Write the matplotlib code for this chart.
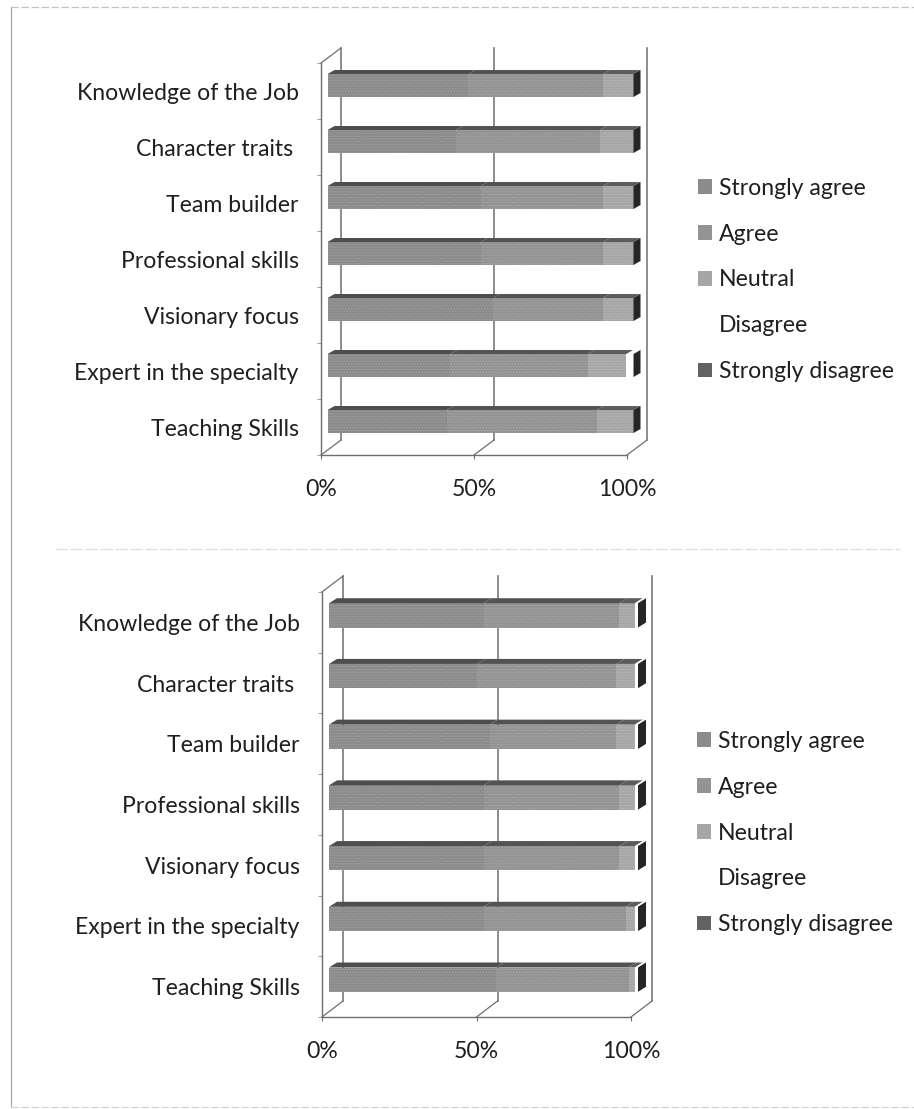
import matplotlib
matplotlib.use("Agg")
import matplotlib.pyplot as plt
import numpy as np
from matplotlib.lines import Line2D
from matplotlib.patches import Patch, Polygon

plt.rcParams["font.family"] = ["Lato", "DejaVu Sans"]
plt.rcParams["hatch.linewidth"] = 0.5

W, H = 914, 1109
FONT_SIZE = 16.6

categories = [
    "Knowledge of the Job",
    "Character traits ",
    "Team builder",
    "Professional skills",
    "Visionary focus",
    "Expert in the specialty",
    "Teaching Skills",
]
series_names = ["Strongly agree", "Agree", "Neutral", "Disagree", "Strongly disagree"]
x_ticks = [0, 50, 100]
x_labels = ["0%", "50%", "100%"]

# percent per category (the greys are hard to separate)
top_strongly_agree = [46, 42, 50, 50, 54, 40, 39]
top_agree = [44, 47, 40, 40, 36, 45, 49]
top_neutral = [10, 11, 10, 10, 10, 12.7, 12]
top_disagree = [0, 0, 0, 0, 0, 2.3, 0]
top_strongly_disagree = [0, 0, 0, 0, 0, 0, 0]

bottom_strongly_agree = [50, 48, 52, 50, 50, 50, 54]
bottom_agree = [44, 45, 41, 44, 44, 46, 43]
bottom_neutral = [5, 6, 6, 5, 5, 3, 2]
bottom_disagree = [1, 1, 1, 1, 1, 1, 1]
bottom_strongly_disagree = [0, 0, 0, 0, 0, 0, 0]

face_colors = ["#8b8b8b", "#939393", "#a6a6a6", "#ffffff", "#626262"]
hatch_colors = ["#a2a2a2", "#a9a9a9", "#bcbcbc", "#ffffff", "#626262"]
top_colors = ["#4e4e4e", "#535353", "#5c5c5c", "#ffffff", "#333333"]
side_color = "#262626"
wall_color = "#6e6e6e"
text_color = "#1f1f1f"


def draw_chart(box, series, wall, bar_off, bar_depth, bar_height, legend_xy, label_pad):
    """box is (left, top, right, bottom) of the front plane, in pixels."""
    left, top, right, bottom = box
    ax = plt.gcf().add_axes([left / W, 1 - bottom / H, (right - left) / W, (bottom - top) / H])
    ax.set_xlim(0, 100)
    ax.set_ylim(len(categories), 0)
    y = np.arange(len(categories)) + 0.5

    # pixel offsets of the fake 3D, expressed in data units
    px_x = 100 / (right - left)
    px_y = len(categories) / (bottom - top)

    wall_dx, wall_dy = wall[0] * px_x, wall[1] * px_y
    for t in x_ticks:
        ax.plot([t + wall_dx] * 2, [0 - wall_dy, len(categories) - wall_dy], color=wall_color, lw=1.1, zorder=1, clip_on=False)
        ax.plot([t, t + wall_dx], [len(categories), len(categories) - wall_dy], color=wall_color, lw=0.9, zorder=1, clip_on=False)
    ax.plot([0, wall_dx], [0, -wall_dy], color=wall_color, lw=0.9, zorder=1, clip_on=False)

    off_x, off_y = bar_off[0] * px_x, bar_off[1] * px_y
    dep_x, dep_y = bar_depth[0] * px_x, bar_depth[1] * px_y

    lefts = np.zeros(len(categories))
    for values, face, speck, top_col in zip(series, face_colors, hatch_colors, top_colors):
        values = np.asarray(values, dtype=float)
        ax.barh(y - off_y, values, left=lefts + off_x, height=bar_height, facecolor=face,
                edgecolor=speck, hatch="......", linewidth=0, zorder=3, clip_on=False)
        for yi, l, v in zip(y - off_y, lefts + off_x, values):
            if v <= 0:
                continue
            y_top = yi - bar_height / 2
            ax.add_patch(Polygon([(l, y_top), (l + v, y_top), (l + v + dep_x, y_top - dep_y), (l + dep_x, y_top - dep_y)],
                                 facecolor=top_col, edgecolor="none", zorder=3, clip_on=False))
        lefts = lefts + values

    # dark end cap of every bar
    for yi, l in zip(y - off_y, lefts + off_x):
        y_top = yi - bar_height / 2
        y_bot = yi + bar_height / 2
        ax.add_patch(Polygon([(l, y_top), (l + dep_x, y_top - dep_y), (l + dep_x, y_bot - dep_y), (l, y_bot)],
                             facecolor=side_color, edgecolor="none", zorder=4, clip_on=False))

    for name in ["top", "right"]:
        ax.spines[name].set_visible(False)
    for name in ["left", "bottom"]:
        ax.spines[name].set_color(wall_color)
        ax.spines[name].set_linewidth(1.0)
    ax.patch.set_alpha(0)

    ax.set_yticks(y, categories, fontsize=FONT_SIZE, color=text_color)
    ax.set_yticks(np.arange(len(categories) + 1), minor=True)
    ax.tick_params(axis="y", which="major", length=0, pad=label_pad)
    ax.tick_params(axis="y", which="minor", length=3, color="#a0a0a0", width=0.8)
    ax.set_xticks(x_ticks, x_labels, fontsize=FONT_SIZE, color=text_color)
    ax.tick_params(axis="x", length=3, color=wall_color, width=0.8, pad=14)

    handles = [Patch(facecolor=c, edgecolor="none") for c in face_colors]
    plt.gcf().legend(handles, series_names, loc="center left",
                     bbox_to_anchor=(legend_xy[0] / W, 1 - legend_xy[1] / H),
                     frameon=False, fontsize=FONT_SIZE, labelcolor=text_color,
                     handlelength=0.6, handleheight=0.6, handletextpad=0.3,
                     labelspacing=1.08, borderpad=0, borderaxespad=0)


def page_line(fig, xs, ys, color="#b5b5b5", lw=0.9, ls="-"):
    fig.add_artist(Line2D([x / W for x in xs], [1 - v / H for v in ys], color=color, lw=lw, ls=ls))


def main():
    fig = plt.figure(figsize=(W / 100, H / 100), dpi=100, facecolor="white")

    draw_chart((321, 63, 627, 455),
               [top_strongly_agree, top_agree, top_neutral, top_disagree, top_strongly_disagree],
               wall=(20, 15), bar_off=(6.5, 5.5), bar_depth=(7, 4), bar_height=0.41,
               legend_xy=(698, 280), label_pad=16)
    draw_chart((322, 592, 631, 1017),
               [bottom_strongly_agree, bottom_agree, bottom_neutral, bottom_disagree, bottom_strongly_disagree],
               wall=(21, 16), bar_off=(7, 7), bar_depth=(8, 5), bar_height=0.4,
               legend_xy=(697, 833), label_pad=16)

    # scanned page edges and the faint rule between the charts
    page_line(fig, [11, 11], [7, 1106], color="#a8a8a8")
    page_line(fig, [11, 914], [7, 7], color="#c2c2c2", ls=(0, (6, 2)))
    page_line(fig, [11, 914], [1107, 1107], color="#d4d4d4", ls=(0, (6, 2)))
    page_line(fig, [55, 900], [549, 549], color="#dedede", ls=(0, (10, 2)))

    fig.savefig("out.png", dpi=100)


if __name__ == "__main__":
    main()
